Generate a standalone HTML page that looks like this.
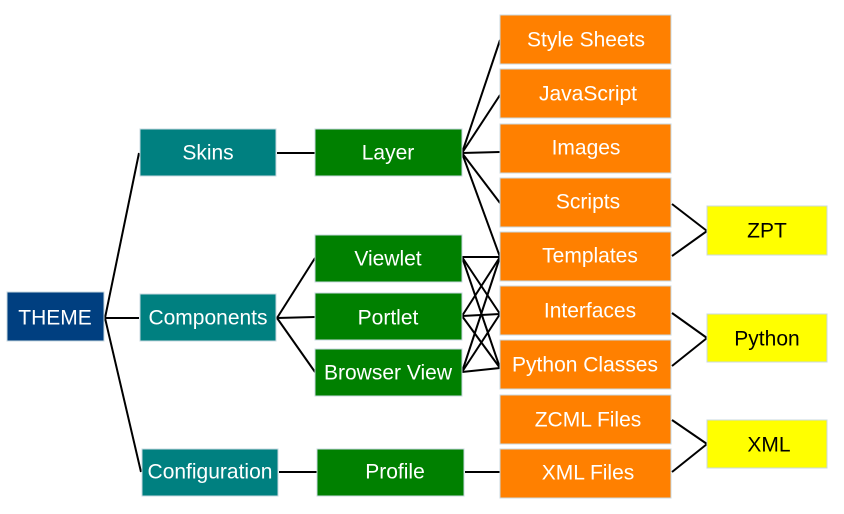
<!DOCTYPE html>
<html><head><meta charset="utf-8"><style>
html,body{margin:0;padding:0;background:#fff;}
svg{display:block;}
text{font-family:"Liberation Sans",sans-serif;font-size:21px;text-anchor:middle;dominant-baseline:central;}
.w{fill:#fff;}
.k{fill:#000;}
rect{stroke:#c8d8e0;stroke-width:1;}
line{stroke:#000;stroke-width:2;}
</style></head><body>
<svg width="844" height="514" viewBox="0 0 844 514">
<g>
<line x1="105" y1="318" x2="139" y2="153"/>
<line x1="105" y1="318" x2="139" y2="318"/>
<line x1="105" y1="318" x2="141" y2="472"/>
<line x1="277" y1="153" x2="315" y2="153"/>
<line x1="277" y1="318" x2="315" y2="258"/>
<line x1="277" y1="318" x2="315" y2="317"/>
<line x1="277" y1="318" x2="315" y2="372"/>
<line x1="279" y1="472" x2="317" y2="472"/>
<line x1="465" y1="472" x2="500" y2="472"/>
<line x1="462" y1="153" x2="500" y2="40"/>
<line x1="462" y1="153" x2="500" y2="95"/>
<line x1="462" y1="153" x2="500" y2="152"/>
<line x1="462" y1="153" x2="500" y2="203"/>
<line x1="462" y1="153" x2="500" y2="257"/>
<line x1="462" y1="257" x2="500" y2="257"/>
<line x1="462" y1="257" x2="500" y2="314"/>
<line x1="462" y1="257" x2="500" y2="368"/>
<line x1="462" y1="316" x2="500" y2="257"/>
<line x1="462" y1="316" x2="500" y2="314"/>
<line x1="462" y1="316" x2="500" y2="368"/>
<line x1="462" y1="372" x2="500" y2="257"/>
<line x1="462" y1="372" x2="500" y2="314"/>
<line x1="462" y1="372" x2="500" y2="368"/>
<line x1="672" y1="204" x2="707" y2="231"/>
<line x1="672" y1="256" x2="707" y2="231"/>
<line x1="672" y1="313" x2="707" y2="338"/>
<line x1="672" y1="366" x2="707" y2="338"/>
<line x1="672" y1="420" x2="707" y2="444"/>
<line x1="672" y1="472" x2="707" y2="444"/>
</g>
<rect x="7" y="292" width="97" height="49" fill="#003f80"/><text class="w" x="55" y="318">THEME</text>
<rect x="140" y="129" width="136" height="47" fill="#008080"/><text class="w" x="208" y="153">Skins</text>
<rect x="140" y="294" width="136" height="47" fill="#008080"/><text class="w" x="208" y="318">Components</text>
<rect x="142" y="449" width="136" height="47" fill="#008080"/><text class="w" x="210" y="472">Configuration</text>
<rect x="315" y="129" width="147" height="47" fill="#008000"/><text class="w" x="388" y="153">Layer</text>
<rect x="315" y="235" width="147" height="47" fill="#008000"/><text class="w" x="388" y="259">Viewlet</text>
<rect x="315" y="293" width="147" height="47" fill="#008000"/><text class="w" x="388" y="318">Portlet</text>
<rect x="315" y="349" width="147" height="47" fill="#008000"/><text class="w" x="388" y="373">Browser View</text>
<rect x="317" y="449" width="147" height="47" fill="#008000"/><text class="w" x="395" y="472">Profile</text>
<g fill="#ff8000">
<rect x="500" y="15" width="171" height="49"/><rect x="500" y="69" width="171" height="49"/>
<rect x="500" y="124" width="171" height="49"/><rect x="500" y="178" width="171" height="49"/>
<rect x="500" y="232" width="171" height="49"/><rect x="500" y="286" width="171" height="49"/>
<rect x="500" y="340" width="171" height="49"/><rect x="500" y="395" width="171" height="49"/>
<rect x="500" y="449" width="171" height="49"/>
</g>
<text class="w" x="586" y="40">Style Sheets</text>
<text class="w" x="588" y="94">JavaScript</text>
<text class="w" x="586" y="148">Images</text>
<text class="w" x="588" y="202">Scripts</text>
<text class="w" x="590" y="256">Templates</text>
<text class="w" x="590" y="311">Interfaces</text>
<text class="w" x="585" y="365">Python Classes</text>
<text class="w" x="588" y="420">ZCML Files</text>
<text class="w" x="588" y="473">XML Files</text>
<g fill="#ffff00">
<rect x="707" y="206" width="120" height="49"/><rect x="707" y="314" width="120" height="48"/><rect x="707" y="420" width="120" height="48"/>
</g>
<text class="k" x="767" y="231">ZPT</text>
<text class="k" x="767" y="339">Python</text>
<text class="k" x="769" y="445">XML</text>
</svg>
</body></html>
